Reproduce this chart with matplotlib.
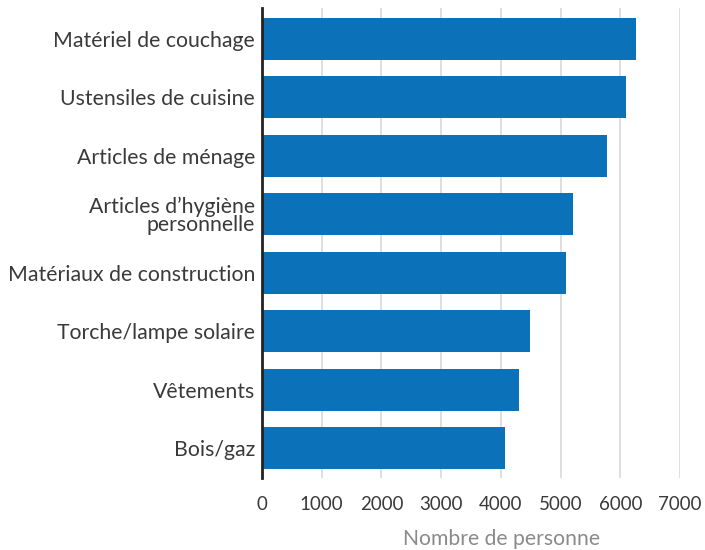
import matplotlib
matplotlib.use("Agg")
import matplotlib.pyplot as plt
from matplotlib.ticker import MultipleLocator

categories = ["Matériel de couchage", "Ustensiles de cuisine", "Articles de ménage",
              "Articles d\u2019hygiène\npersonnelle", "Matériaux de construction",
              "Torche/lampe solaire", "Vêtements", "Bois/gaz"]
values = [6265, 6100, 5780, 5210, 5090, 4490, 4305, 4075]

plt.rcParams['font.family'] = ['Lato', 'DejaVu Sans']

fig = plt.figure(figsize=(7.05, 5.5), dpi=100)
ax = fig.add_axes([262/705, 1-478/550, (680-262)/705, (478-8)/550])

y = list(range(len(categories)))
ax.barh(y, values, height=0.72, color="#0b72b9", zorder=3)
ax.set_ylim(len(categories) - 0.49, -0.53)
ax.set_xlim(0, 7000)
ax.xaxis.set_major_locator(MultipleLocator(1000))
ax.grid(axis='x', color="#d9d9d9", linewidth=1.2, zorder=0)
ax.set_yticks(y)
ax.set_yticklabels(categories, fontsize=15.3, color="#3a3a3a", linespacing=0.92)
ax.tick_params(axis='y', length=0, pad=5)
ax.tick_params(axis='x', length=0, pad=13, labelsize=13.5, labelcolor="#3a3a3a")
for s in ['top', 'right', 'bottom']:
    ax.spines[s].set_visible(False)
ax.spines['left'].set_color("#222222")
ax.spines['left'].set_linewidth(2)
ax.spines['left'].set_zorder(4)
ax.set_xlabel("Nombre de personne", fontsize=15.2, color="#8a8a8a")
ax.xaxis.set_label_coords(0.574, -0.108)

fig.savefig("out.png", dpi=100)
